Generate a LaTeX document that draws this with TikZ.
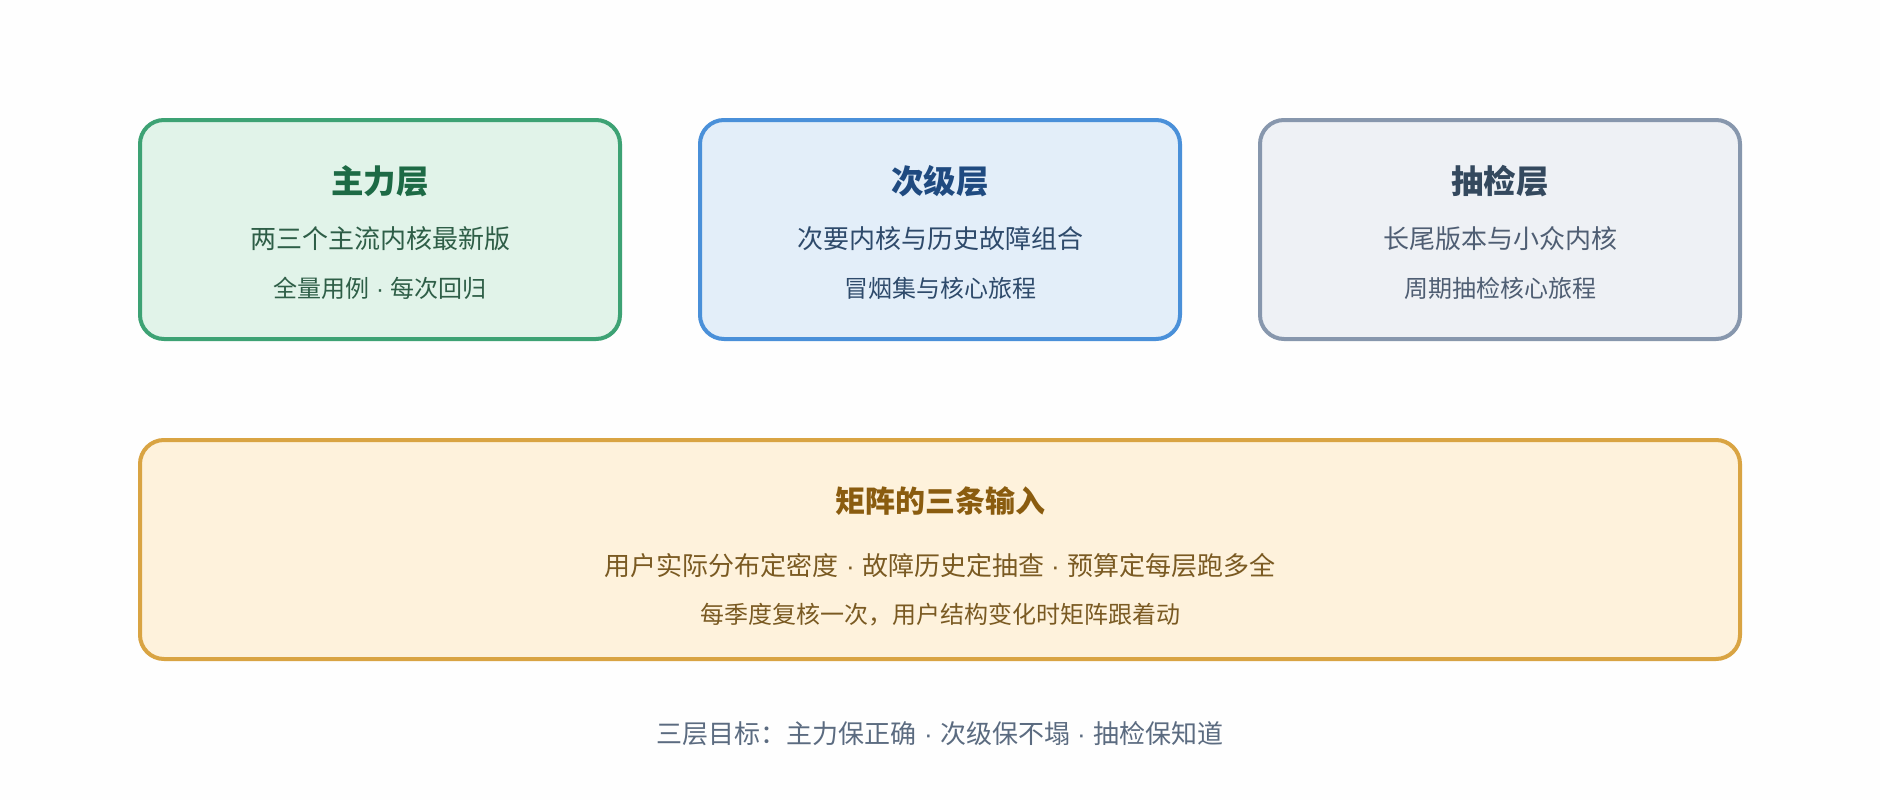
\documentclass[tikz,border=0pt]{standalone}
\usepackage{fontspec}
\setmainfont{Noto Sans CJK SC}
\newfontfamily\latinf{Liberation Sans}
\newcommand{\mysep}{{\latinf\ ·\ }}
\usetikzlibrary{positioning}
\definecolor{bgc}{HTML}{FEFEFE}
\definecolor{gfill}{HTML}{E1F3E9}
\definecolor{gline}{HTML}{3DA274}
\definecolor{gtitle}{HTML}{1D6A45}
\definecolor{gtext}{HTML}{2E5E47}
\definecolor{bfill}{HTML}{E3EEF9}
\definecolor{bline}{HTML}{4A90D9}
\definecolor{btitle}{HTML}{1F4A80}
\definecolor{btext}{HTML}{2E4A6B}
\definecolor{sfill}{HTML}{EEF1F5}
\definecolor{sline}{HTML}{8797AD}
\definecolor{stitle}{HTML}{34495E}
\definecolor{stext}{HTML}{4F5E73}
\definecolor{yfill}{HTML}{FEF2DC}
\definecolor{yline}{HTML}{D9A443}
\definecolor{ytitle}{HTML}{8A5C0F}
\definecolor{ytext}{HTML}{7A5A22}
\definecolor{ftext}{HTML}{5B6B80}
\tikzset{
  layerbox/.style={draw, line width=4pt, rounded corners=24pt, inner sep=0pt},
  ttl/.style={font=\fontsize{32.5}{38}\selectfont\bfseries, inner sep=0pt, anchor=center},
  ttlsmall/.style={font=\fontsize{30}{35}\selectfont\bfseries, inner sep=0pt, anchor=center},
  lineA/.style={font=\fontsize{26}{31}\selectfont, inner sep=0pt, anchor=center},
  lineB/.style={font=\fontsize{24}{29}\selectfont, inner sep=0pt, anchor=center},
}
\begin{document}
\begin{tikzpicture}[x=1pt,y=-1pt]
\fill[bgc] (0,0) rectangle (1880,800);
\useasboundingbox (0,0) rectangle (1880,800);
% top boxes
\draw[layerbox, fill=gfill, draw=gline] (140,120) rectangle (620,339);
\node[ttl, text=gtitle] (t1) at (380,181) {主力层};
\node[lineA, text=gtext] (a1) at (380,239) {两三个主流内核最新版};
\node[lineB, text=gtext] (b1) at (380,288) {全量用例\mysep 每次回归};

\draw[layerbox, fill=bfill, draw=bline] (700,120) rectangle (1180,339);
\node[ttl, text=btitle] (t2) at (940,181) {次级层};
\node[lineA, text=btext] (a2) at (940,239) {次要内核与历史故障组合};
\node[lineB, text=btext] (b2) at (940,288) {冒烟集与核心旅程};

\draw[layerbox, fill=sfill, draw=sline] (1260,120) rectangle (1740,339);
\node[ttl, text=stitle] (t3) at (1500,181) {抽检层};
\node[lineA, text=stext] (a3) at (1500,239) {长尾版本与小众内核};
\node[lineB, text=stext] (b3) at (1500,288) {周期抽检核心旅程};

% bottom box
\draw[layerbox, fill=yfill, draw=yline] (140,440) rectangle (1740,659);
\node[ttlsmall, text=ytitle] (t4) at (940,501) {矩阵的三条输入};
\node[lineA, text=ytext] (a4) at (940,566) {用户实际分布定密度\mysep 故障历史定抽查\mysep 预算定每层跑多全};
\node[lineB, text=ytext] (b4) at (940,615) {每季度复核一次，用户结构变化时矩阵跟着动};

\node[lineA, text=ftext] (foot) at (940,734) {三层目标：主力保正确\mysep 次级保不塌\mysep 抽检保知道};
\end{tikzpicture}
\end{document}
